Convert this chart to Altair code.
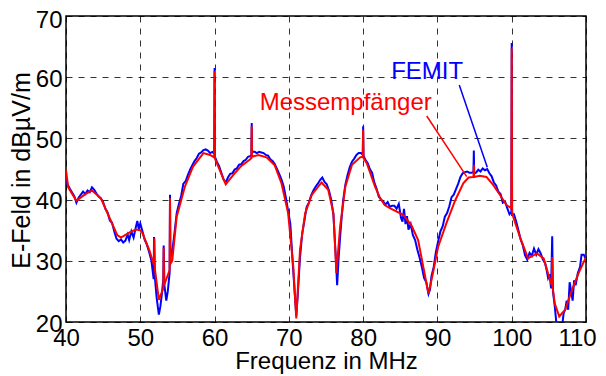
import altair as alt
import pandas as pd

# Messempfänger (red, smooth) frequency [MHz] / level [dBµV/m]
red_f = [40.0, 40.3, 41.4, 42.5, 43.5, 44.7, 45.8, 46.9, 47.4, 48.5, 49.4, 50.0, 50.3, 51.2,
         51.85, 51.9, 51.95, 52.5, 53.1, 53.15, 53.2, 53.95, 54.0, 54.05, 54.3, 54.9, 56.0,
         57.1, 58.5, 59.4, 59.95, 60.0, 60.05, 60.5, 61.5, 62.5, 63.6, 64.8, 64.95, 65.0, 65.05,
         65.9, 67.0, 68.1, 69.0, 69.9, 70.6, 71.0, 71.5, 72.2, 73.1, 74.4, 75.3, 76.0, 76.4,
         76.9, 77.6, 78.5, 79.6, 79.95, 80.0, 80.05, 80.5, 81.6, 82.3, 82.9, 83.6, 85.4, 86.5,
         87.4, 88.1, 88.8, 89.4, 90.1, 91.2, 92.4, 93.5, 94.2, 94.85, 94.9, 94.95, 95.7, 96.6,
         97.5, 98.4, 99.3, 99.95, 100.0, 100.05, 100.2, 101.1, 102.2, 103.4, 104.3, 104.9,
         105.4, 105.45, 105.5, 105.8, 106.4, 107.2, 108.1, 109.0, 110.0]
red_v = [44.8, 42.0, 39.8, 40.8, 41.5, 40.2, 37.2, 34.2, 33.8, 34.6, 35.1, 35.0, 34.5, 31.8,
         29.3, 33.7, 28.8, 23.6, 25.5, 32.1, 26.0, 28.5, 40.2, 29.5, 30.0, 37.2, 42.1,
         45.4, 47.6, 47.3, 46.9, 61.0, 46.7, 45.4, 42.5, 44.0, 45.5, 46.6, 46.8, 52.0, 47.0,
         47.3, 46.9, 45.6, 42.7, 37.8, 29.0, 20.6, 31.8, 37.8, 40.8, 42.8, 41.6, 37.8, 28.0,
         35.6, 42.1, 45.7, 46.9, 47.0, 51.4, 46.8, 45.9, 42.1, 40.2, 39.1, 38.6, 37.5, 35.8,
         33.4, 29.0, 24.6, 28.0, 32.3, 36.1, 39.9, 42.7, 43.6, 43.7, 45.7, 43.7, 43.9, 43.7,
         42.4, 40.8, 39.1, 38.6, 64.7, 38.0, 37.2, 33.9, 30.4, 31.2, 30.4, 27.9,
         26.0, 30.6, 25.8, 23.0, 20.9, 22.0, 25.2, 28.0, 30.6]

# FEMIT (blue, noisy)
blue_f = [40.0, 40.2, 40.5, 40.8, 41.1, 41.4, 41.7, 42.0, 42.3, 42.6, 42.9, 43.2, 43.5, 43.8,
          44.1, 44.4, 44.7, 45.0, 45.3, 45.6, 45.9, 46.2, 46.5, 46.8, 47.1, 47.4, 47.7, 48.0,
          48.3, 48.5, 48.8, 49.1, 49.4, 49.6, 49.8, 50.0, 50.3, 50.6, 50.9, 51.2, 51.5, 51.8,
          51.85, 51.95, 52.2, 52.5, 52.7, 52.9, 53.1, 53.15, 53.25, 53.5, 53.7, 53.95, 54.0,
          54.05, 54.3, 54.6, 54.9, 55.2, 55.5, 55.8, 56.1, 56.4, 56.7, 57.0, 57.3, 57.6, 57.9,
          58.2, 58.5, 58.8, 59.1, 59.4, 59.7, 59.95, 60.0, 60.05, 60.3, 60.6, 60.9, 61.2, 61.5,
          61.8, 62.1, 62.4, 62.7, 63.0, 63.3, 63.6, 63.9, 64.2, 64.5, 64.8, 64.95, 65.0, 65.05,
          65.4, 65.7, 66.0, 66.3, 66.6, 66.9, 67.2, 67.5, 67.8, 68.1, 68.4, 68.7, 69.0, 69.3,
          69.6, 69.9, 70.2, 70.5, 70.8, 71.0, 71.2, 71.5, 71.8, 72.1, 72.4, 72.7, 73.0, 73.3,
          73.6, 73.9, 74.2, 74.5, 74.8, 75.1, 75.4, 75.7, 76.0, 76.3, 76.5, 76.7, 77.0, 77.3,
          77.6, 77.9, 78.2, 78.5, 78.8, 79.1, 79.4, 79.7, 79.95, 80.0, 80.05, 80.3, 80.6, 80.9,
          81.2, 81.5, 81.8, 82.1, 82.4, 82.7, 83.0, 83.3, 83.6, 83.9, 84.2, 84.5, 84.8, 85.1,
          85.3, 85.5, 85.7, 85.9, 86.1, 86.4, 86.7, 87.0, 87.3, 87.6, 87.9, 88.2, 88.5, 88.8,
          89.0, 89.2, 89.5, 89.8, 90.1, 90.4, 90.7, 91.0, 91.3, 91.6, 91.9, 92.2, 92.5, 92.8,
          93.1, 93.4, 93.7, 94.0, 94.3, 94.6, 94.85, 94.9, 94.95, 95.2, 95.5, 95.8, 96.1, 96.4,
          96.7, 97.0, 97.3, 97.6, 97.9, 98.2, 98.5, 98.8, 99.1, 99.4, 99.7, 99.95, 100.0,
          100.05, 100.3, 100.6, 100.9, 101.2, 101.5, 101.8, 102.1, 102.4, 102.7, 103.0, 103.3,
          103.6, 103.9, 104.2, 104.5, 104.7, 104.9, 105.1, 105.3, 105.45, 105.55, 105.8, 106.0,
          106.2, 106.5, 106.8, 107.0, 107.2, 107.4, 107.6, 107.8, 108.0, 108.2, 108.4, 108.6,
          108.9, 109.2, 109.4, 109.7, 110.0]
blue_v = [43.5, 42.5, 41.8, 41.2, 40.6, 39.5, 40.3, 40.8, 41.3, 40.9, 41.5, 41.2, 42.0, 41.6,
          41.0, 40.5, 40.2, 39.6, 38.5, 37.9, 36.6, 36.2, 34.8, 33.6, 33.2, 33.5, 33.0, 33.3,
          34.3, 33.4, 34.8, 33.8, 35.5, 36.5, 35.2, 36.1, 34.8, 33.4, 32.6, 31.4, 30.0, 27.0,
          33.9, 27.5, 24.0, 21.2, 22.5, 24.5, 27.0, 32.5, 26.0, 23.5, 25.0, 28.0, 40.8,
          30.5, 31.5, 34.5, 37.8, 39.3, 40.6, 42.6, 43.0, 44.0, 44.9, 45.6, 46.3, 46.8, 47.5,
          47.7, 48.1, 48.2, 48.0, 47.6, 47.8, 47.5, 61.5, 47.0, 46.2, 45.5, 44.4, 43.3, 42.8,
          43.6, 44.2, 44.3, 44.9, 45.1, 45.7, 45.8, 46.3, 46.5, 47.0, 47.1, 47.0, 52.5, 47.8,
          47.8, 47.6, 47.8, 47.7, 47.6, 47.3, 47.2, 46.6, 46.3, 45.8, 45.0, 44.2, 43.3, 42.2,
          40.3, 38.2, 36.0, 30.0, 24.5, 21.0, 24.5, 30.5, 34.5, 36.6, 38.8, 39.5, 40.7, 41.5,
          42.1, 42.6, 43.2, 43.6, 42.9, 42.5, 41.5, 40.0, 37.5, 31.0, 26.0, 30.5, 35.5, 39.8,
          42.4, 44.0, 45.3, 46.2, 46.7, 47.3, 47.6, 47.6, 47.4, 52.0, 47.2, 46.5, 46.0, 45.0,
          44.4, 42.8, 41.8, 40.5, 40.0, 39.7, 39.2, 39.6, 38.8, 39.0, 39.0, 38.5, 39.3, 37.0,
          36.4, 38.5, 36.0, 37.3, 35.1, 36.0, 34.2, 33.4, 31.8, 30.5, 29.0, 27.2, 26.5, 24.6,
          25.3, 27.5, 29.0, 31.5, 33.2, 34.8, 35.6, 37.2, 37.8, 38.9, 40.4, 40.8, 41.7, 42.6,
          43.7, 44.3, 44.5, 44.6, 44.4, 44.4, 44.5, 48.0, 44.3, 44.4, 44.9, 44.6, 45.1, 44.8,
          45.0, 44.3, 43.8, 42.8, 42.3, 41.3, 40.9, 39.5, 39.7, 38.6, 37.6, 38.0, 65.6,
          37.5, 37.6, 36.4, 35.0, 33.5, 32.5, 30.9, 30.2, 31.3, 30.8, 32.0, 31.0,
          31.9, 31.2, 30.2, 29.6, 28.5, 27.2, 27.8, 25.5, 34.0, 25.0, 22.5, 20.0,
          19.0, 17.5, 19.5, 21.5, 22.0, 23.5, 22.0, 26.5, 25.0, 23.5, 26.8, 26.0,
          28.0, 29.0, 31.0, 31.0, 30.2]

# annotations
label_text = ["FEMIT", "Messempfänger"]
label_f = [88.62, 77.65]
label_v = [59.7, 54.64]
label_color = ["#0000ff", "#ff0000"]
pointer_f = [92.94, 88.56]
pointer_v = [58.73, 53.66]
pointer_f2 = [96.71, 93.94]
pointer_v2 = [45.28, 43.74]

FONT = "Liberation Sans"

red_df = pd.DataFrame({"f": red_f, "v": red_v})
blue_df = pd.DataFrame({"f": blue_f, "v": blue_v})
lab_df = pd.DataFrame({"t": label_text, "f": label_f, "v": label_v, "c": label_color})
ptr_df = pd.DataFrame({"f": pointer_f, "v": pointer_v, "f2": pointer_f2, "v2": pointer_v2,
                       "c": label_color})

xs = alt.Scale(domain=[40, 110], nice=False, zero=False)
ys = alt.Scale(domain=[20, 70], nice=False, zero=False)

xaxis = alt.Axis(values=list(range(40, 111, 10)), title="Frequenz in MHz", grid=True,
                 ticks=False, labelPadding=4, titleBaseline="alphabetic", titleY=46,
                 labelOffset={"condition": {"test": "datum.value == 110", "value": -9},
                              "value": 0},
                 labelFlush=False, labelFont=FONT, labelFontSize=24, titleFont=FONT,
                 titleFontSize=24, titleFontWeight="normal", labelColor="#000000",
                 titleColor="#000000", gridColor="#000000", gridDash=[6, 6], gridWidth=1,
                 gridOpacity=0.8, domain=False)
yaxis = alt.Axis(values=list(range(20, 71, 10)), title="E-Feld in dBµV/m", grid=True,
                 ticks=False, labelPadding=4,
                 labelOffset={"condition": {"test": "datum.value == 70", "value": 4},
                              "value": 2},
                 titleBaseline="alphabetic",
                 titleX=-37, titleY=154, labelFlush=False, labelFont=FONT,
                 labelFontSize=24, titleFont=FONT, titleFontSize=25,
                 titleFontWeight="normal", labelColor="#000000", titleColor="#000000",
                 gridColor="#000000", gridDash=[6, 6], gridWidth=1, gridOpacity=0.8,
                 domain=False)

blue = alt.Chart(blue_df).mark_line(color="#0000ff", strokeWidth=2, clip=True).encode(
    x=alt.X("f:Q", scale=xs, axis=xaxis),
    y=alt.Y("v:Q", scale=ys, axis=yaxis),
)
red = alt.Chart(red_df).mark_line(color="#ff0000", strokeWidth=2, clip=True).encode(
    x=alt.X("f:Q", scale=xs),
    y=alt.Y("v:Q", scale=ys),
)
ptr = alt.Chart(ptr_df).mark_rule(strokeWidth=1.5).encode(
    x=alt.X("f:Q", scale=xs), y=alt.Y("v:Q", scale=ys),
    x2="f2:Q", y2="v2:Q",
    color=alt.Color("c:N", scale=None),
)
lab = alt.Chart(lab_df).mark_text(font=FONT, fontSize=24, align="center",
                                  baseline="alphabetic").encode(
    x=alt.X("f:Q", scale=xs), y=alt.Y("v:Q", scale=ys),
    text="t:N", color=alt.Color("c:N", scale=None),
)

chart = alt.layer(blue, red, ptr, lab).properties(
    width=520, height=306,
    background="#ffffff",
    autosize=alt.AutoSizeParams(type="none"),
    padding={"left": 58, "top": 8, "right": 12, "bottom": 54},
).configure_view(
    stroke="#000000", strokeWidth=1.5
)

chart.save("out.html", embed_options={"renderer": "svg", "actions": False})
